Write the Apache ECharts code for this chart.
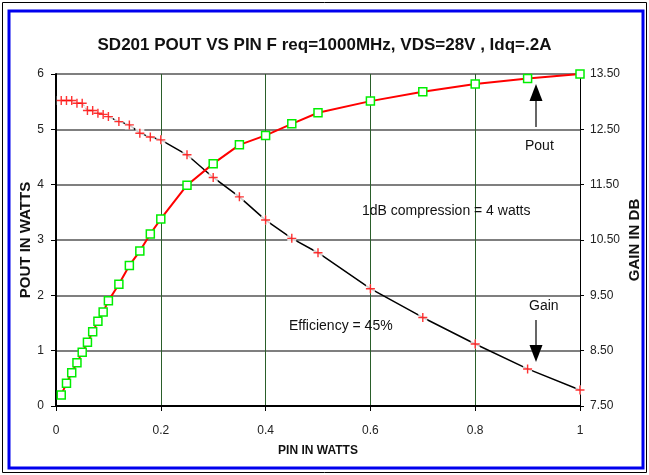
<!DOCTYPE html>
<html>
<head>
<meta charset="utf-8">
<script src="https://cdn.jsdelivr.net/npm/echarts@6/dist/echarts.min.js"></script>
<style>
  html, body { margin: 0; padding: 0; background: #fff; }
  #chart { width: 649px; height: 475px; }
</style>
</head>
<body>
<div id="chart"></div>
<script>
// input power (W)
var pin = [0.01, 0.02, 0.03, 0.04, 0.05, 0.06, 0.07, 0.08, 0.09, 0.1,
  0.12, 0.14, 0.16, 0.18, 0.2, 0.25, 0.3, 0.35, 0.4, 0.45, 0.5,
  0.6, 0.7, 0.8, 0.9, 1.0];
// output power (W)
var pout = [0.2, 0.41, 0.6, 0.78, 0.97, 1.15, 1.34, 1.53, 1.7, 1.9,
  2.2, 2.54, 2.8, 3.11, 3.38, 3.99, 4.38, 4.72, 4.89, 5.1, 5.3,
  5.51, 5.68, 5.82, 5.92, 6.0];
// gain (dB)
var gain = [13.02, 13.02, 13.02, 12.97, 12.97, 12.84, 12.84, 12.79, 12.77, 12.73,
  12.64, 12.58, 12.43, 12.36, 12.31, 12.04, 11.63, 11.28, 10.86, 10.53, 10.27,
  9.62, 9.1, 8.62, 8.17, 7.79];

var FONT = '"Liberation Sans", Arial, sans-serif';
var PLUS = 'path://M4,0 L5.5,0 L5.5,4 L9.5,4 L9.5,5.5 L5.5,5.5 L5.5,9.5 L4,9.5 L4,5.5 L0,5.5 L0,4 L4,4 Z';

function pairs(xs, ys) {
  return xs.map(function (x, i) { return [x, ys[i]]; });
}

var chart = echarts.init(document.getElementById('chart'));

var option = {
  animation: false,
  backgroundColor: '#fff',
  title: {
    text: 'SD201 POUT VS PIN F req=1000MHz, VDS=28V , Idq=.2A',
    left: 'center',
    top: 32,
    textStyle: { fontFamily: FONT, fontSize: 17, fontWeight: 'bold', color: '#111' }
  },
  grid: {
    left: 56, right: 69, top: 74, bottom: 69,
    containLabel: false,
    outerBoundsMode: 'none'
  },
  xAxis: {
    type: 'value',
    min: 0, max: 1, interval: 0.2,
    name: 'PIN IN WATTS',
    nameLocation: 'middle',
    nameGap: 39,
    nameMoveOverlap: false,
    nameTextStyle: { fontFamily: FONT, fontSize: 12, fontWeight: 'bold', color: '#111' },
    axisLine: { show: true, lineStyle: { color: '#000', width: 2 } },
    axisTick: { show: true, length: 5, lineStyle: { color: '#000' } },
    axisLabel: { margin: 19, fontFamily: FONT, fontSize: 12, color: '#222' },
    splitLine: { show: true, lineStyle: { color: '#2a5e2a', width: 1 } }
  },
  yAxis: [{
    type: 'value',
    min: 0, max: 6, interval: 1,
    name: 'POUT IN WATTS',
    nameLocation: 'middle',
    nameGap: 23,
    nameMoveOverlap: false,
    nameTextStyle: { fontFamily: FONT, fontSize: 15, fontWeight: 'bold', color: '#111' },
    axisLine: { show: true, lineStyle: { color: '#000', width: 2 } },
    axisTick: { show: true, length: 5, lineStyle: { color: '#000' } },
    axisLabel: { margin: 12, fontFamily: FONT, fontSize: 12, color: '#222' },
    splitLine: { show: true, lineStyle: { color: '#555', width: 1.5 } }
  }, {
    type: 'value',
    min: 7.5, max: 13.5, interval: 1,
    position: 'right',
    name: 'GAIN IN DB',
    nameLocation: 'middle',
    nameGap: 47,
    nameRotate: 90,
    nameMoveOverlap: false,
    nameTextStyle: { fontFamily: FONT, fontSize: 15, fontWeight: 'bold', color: '#111' },
    axisLine: { show: true, lineStyle: { color: '#000', width: 1 } },
    axisTick: { show: true, length: 4, lineStyle: { color: '#000' } },
    axisLabel: {
      margin: 10, fontFamily: FONT, fontSize: 12, color: '#222',
      formatter: function (v) { return v.toFixed(2); }
    },
    splitLine: { show: false }
  }],
  series: [
    {
      name: 'Gain',
      type: 'line',
      yAxisIndex: 1,
      data: pairs(pin, gain),
      showSymbol: false,
      lineStyle: { color: '#000', width: 1.5 },
      z: 2
    },
    {
      // white patch behind each plus, breaks the line like the original
      type: 'scatter',
      yAxisIndex: 1,
      data: pairs(pin, gain),
      symbol: 'rect',
      symbolSize: 9,
      itemStyle: { color: '#fff' },
      silent: true,
      z: 3
    },
    {
      type: 'scatter',
      yAxisIndex: 1,
      data: pairs(pin, gain),
      symbol: PLUS,
      symbolSize: 9,
      itemStyle: { color: '#ff0000' },
      z: 4
    },
    {
      name: 'Pout',
      type: 'line',
      yAxisIndex: 0,
      data: pairs(pin, pout),
      symbol: 'rect',
      symbolSize: 8,
      showAllSymbol: true,
      lineStyle: { color: '#ff0000', width: 2 },
      itemStyle: { color: '#fff', borderColor: '#00ee00', borderWidth: 1.5 },
      z: 5
    }
  ],
  graphic: [
    // outer frame
    { type: 'rect', shape: { x: 2.5, y: 2.5, width: 644, height: 470 },
      style: { fill: 'none', stroke: '#000', lineWidth: 1 }, z: 0 },
    { type: 'rect', shape: { x: 9, y: 11, width: 634, height: 457 },
      style: { fill: 'none', stroke: '#0000ee', lineWidth: 3 }, z: 0 },
    // annotations
    { type: 'text', left: 362, top: 204, z: 10,
      style: { text: '1dB compression = 4 watts', font: '14px ' + FONT, fill: '#111' } },
    { type: 'text', left: 289, top: 319, z: 10,
      style: { text: 'Efficiency = 45%', font: '14px ' + FONT, fill: '#111' } },
    { type: 'text', left: 525, top: 139, z: 10,
      style: { text: 'Pout', font: '14px ' + FONT, fill: '#111' } },
    { type: 'text', left: 529, top: 299, z: 10,
      style: { text: 'Gain', font: '14px ' + FONT, fill: '#111' } },
    // arrows
    { type: 'line', shape: { x1: 536, y1: 127, x2: 536, y2: 100 },
      style: { stroke: '#000', lineWidth: 1.2 }, z: 10 },
    { type: 'polygon', shape: { points: [[529.5, 101], [542.5, 101], [536, 84]] },
      style: { fill: '#000' }, z: 10 },
    { type: 'line', shape: { x1: 536, y1: 320, x2: 536, y2: 346 },
      style: { stroke: '#000', lineWidth: 1.2 }, z: 10 },
    { type: 'polygon', shape: { points: [[529.5, 345], [542.5, 345], [536, 362]] },
      style: { fill: '#000' }, z: 10 }
  ]
};

chart.setOption(option);
</script>
</body>
</html>
